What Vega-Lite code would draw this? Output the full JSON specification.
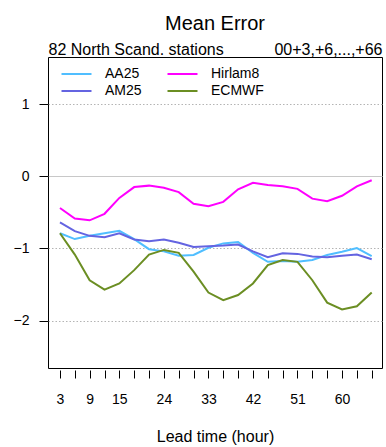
{
  "$schema": "https://vega.github.io/schema/vega-lite/v6.json",
  "width": 334,
  "height": 311,
  "autosize": "none",
  "padding": {"left": 48, "top": 57, "right": 4, "bottom": 79},
  "background": "white",
  "config": {
    "font": "Liberation Sans",
    "view": {"stroke": "black", "strokeWidth": 1}
  },
  "title": {"text": "Mean Error", "fontSize": 20, "fontWeight": "normal", "anchor": "middle", "offset": 7, "color": "black", "font": "Liberation Sans"},
  "data": {
    "values": [
      {"lead": 3, "AA25": -0.79, "AM25": -0.64, "Hirlam8": -0.44, "ECMWF": -0.79},
      {"lead": 6, "AA25": -0.87, "AM25": -0.76, "Hirlam8": -0.585, "ECMWF": -1.085},
      {"lead": 9, "AA25": -0.825, "AM25": -0.825, "Hirlam8": -0.61, "ECMWF": -1.44},
      {"lead": 12, "AA25": -0.79, "AM25": -0.845, "Hirlam8": -0.52, "ECMWF": -1.57},
      {"lead": 15, "AA25": -0.755, "AM25": -0.79, "Hirlam8": -0.30, "ECMWF": -1.485},
      {"lead": 18, "AA25": -0.87, "AM25": -0.875, "Hirlam8": -0.15, "ECMWF": -1.30},
      {"lead": 21, "AA25": -1.01, "AM25": -0.90, "Hirlam8": -0.13, "ECMWF": -1.085},
      {"lead": 24, "AA25": -1.04, "AM25": -0.875, "Hirlam8": -0.16, "ECMWF": -1.02},
      {"lead": 27, "AA25": -1.10, "AM25": -0.92, "Hirlam8": -0.22, "ECMWF": -1.06},
      {"lead": 30, "AA25": -1.09, "AM25": -0.98, "Hirlam8": -0.38, "ECMWF": -1.32},
      {"lead": 33, "AA25": -0.99, "AM25": -0.97, "Hirlam8": -0.415, "ECMWF": -1.61},
      {"lead": 36, "AA25": -0.93, "AM25": -0.96, "Hirlam8": -0.355, "ECMWF": -1.715},
      {"lead": 39, "AA25": -0.91, "AM25": -0.945, "Hirlam8": -0.18, "ECMWF": -1.645},
      {"lead": 42, "AA25": -1.06, "AM25": -1.04, "Hirlam8": -0.09, "ECMWF": -1.485},
      {"lead": 45, "AA25": -1.185, "AM25": -1.12, "Hirlam8": -0.12, "ECMWF": -1.23},
      {"lead": 48, "AA25": -1.175, "AM25": -1.065, "Hirlam8": -0.14, "ECMWF": -1.16},
      {"lead": 51, "AA25": -1.185, "AM25": -1.075, "Hirlam8": -0.175, "ECMWF": -1.185},
      {"lead": 54, "AA25": -1.16, "AM25": -1.11, "Hirlam8": -0.31, "ECMWF": -1.44},
      {"lead": 57, "AA25": -1.09, "AM25": -1.12, "Hirlam8": -0.345, "ECMWF": -1.75},
      {"lead": 60, "AA25": -1.045, "AM25": -1.10, "Hirlam8": -0.27, "ECMWF": -1.845},
      {"lead": 63, "AA25": -0.995, "AM25": -1.085, "Hirlam8": -0.14, "ECMWF": -1.80},
      {"lead": 66, "AA25": -1.105, "AM25": -1.15, "Hirlam8": -0.055, "ECMWF": -1.61}
    ]
  },
  "transform": [
    {"fold": ["AA25", "AM25", "Hirlam8", "ECMWF"], "as": ["model", "me"]}
  ],
  "layer": [
    {
      "mark": {"type": "line", "strokeWidth": 2, "clip": true},
      "encoding": {
        "x": {
          "field": "lead", "type": "quantitative",
          "scale": {"domain": [0.58, 68.08], "nice": false, "zero": false},
          "axis": {
            "orient": "bottom",
            "values": [3, 6, 9, 12, 15, 18, 21, 24, 27, 30, 33, 36, 39, 42, 45, 48, 51, 54, 57, 60, 63, 66],
            "labelExpr": "indexof([3, 9, 15, 24, 33, 42, 51, 60], datum.value) >= 0 ? datum.label : ''",
            "labelOverlap": false,
            "labelFlush": false,
            "labelBound": false,
            "domain": false,
            "grid": false,
            "offset": 2,
            "tickSize": 8,
            "tickColor": "black",
            "tickWidth": 1,
            "labelFontSize": 14,
            "labelColor": "black",
            "labelPadding": 14,
            "title": "Lead time (hour)",
            "titleFontSize": 16,
            "titleFontWeight": "normal",
            "titleColor": "black",
            "titlePadding": 22
          }
        },
        "y": {
          "field": "me", "type": "quantitative",
          "scale": {"domain": [-2.655, 1.651], "nice": false, "zero": false},
          "axis": {
            "values": [-2, -1, 0, 1],
            "format": "d",
            "domain": false,
            "tickSize": 9,
            "tickColor": "black",
            "tickWidth": 1,
            "labelFontSize": 14,
            "labelColor": "black",
            "labelPadding": 10,
            "title": null,
            "grid": true,
            "gridColor": {"condition": {"test": "datum.value === 0", "value": "#c8c8c8"}, "value": "#b4b4b4"},
            "gridDash": {"condition": {"test": "datum.value === 0", "value": []}, "value": [1.5, 2]},
            "gridWidth": 1
          }
        },
        "color": {
          "field": "model", "type": "nominal",
          "scale": {
            "domain": ["AA25", "Hirlam8", "AM25", "ECMWF"],
            "range": ["#50BEFF", "#FF00FF", "#6464E1", "#6B8E23"]
          },
          "legend": {
            "title": null,
            "orient": "none",
            "legendX": 21.5,
            "legendY": 10,
            "columns": 2,
            "direction": "horizontal",
            "symbolType": "M-3,0H3",
            "symbolSize": 100,
            "symbolStrokeWidth": 2,
            "labelFontSize": 14,
            "labelColor": "black",
            "labelOffset": 21.5,
            "columnPadding": 21,
            "rowPadding": 3,
            "padding": 0
          }
        },
        "order": {"field": "lead", "type": "quantitative"}
      }
    },
    {
      "mark": {"type": "point", "opacity": 0},
      "encoding": {
        "x": {
          "field": "lead", "type": "quantitative",
          "scale": {"domain": [0.58, 68.08], "nice": false, "zero": false},
          "axis": {
            "orient": "top",
            "values": [0.58, 68.08],
            "labelExpr": "datum.value < 30 ? '82 North Scand. stations' : '00+3,+6,...,+66'",
            "labelFlush": true,
            "labelOverlap": false,
            "labelBound": false,
            "ticks": false,
            "domain": false,
            "grid": false,
            "labelFontSize": 16,
            "labelColor": "black",
            "labelPadding": 0,
            "title": null
          }
        }
      }
    }
  ],
  "resolve": {"axis": {"x": "independent"}}
}
